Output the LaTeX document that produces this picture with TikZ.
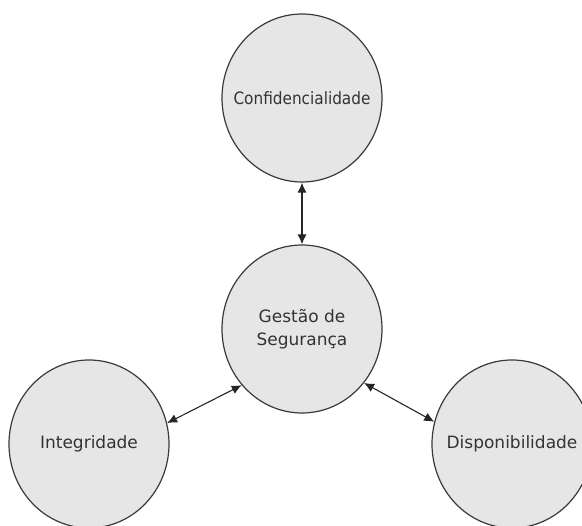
\documentclass[tikz,border=0pt]{standalone}
\usepackage{fontspec}
\setmainfont{DejaVu Sans}
\newfontfamily\narrowfont{DejaVu Sans}[FakeStretch=0.9]
\usetikzlibrary{arrows.meta, shapes.geometric}

\definecolor{pilarfill}{HTML}{E6E6E6}
\definecolor{pilarline}{HTML}{3A3A3A}
\definecolor{pilartext}{HTML}{333333}

\begin{document}
\begin{tikzpicture}[
  x=1pt, y=1pt,
  pilar/.style={draw=pilarline,fill=pilarfill,line width=1.2pt,ellipse,
    inner xsep=-22pt,inner ysep=0pt,
    minimum width=160pt,minimum height=168pt,align=center,text=pilartext,
    font=\fontsize{17}{23}\selectfont},
  link/.style={{Latex[length=10pt,width=9pt]}-{Latex[length=10pt,width=9pt]},line width=1.1pt,draw=black!85},
]
\useasboundingbox (0,0) rectangle (582,-526);

% Nodes
\node[pilar] (gestao) at (302,-329) {Gestão de\\Segurança};
\node[pilar, font=\narrowfont\fontsize{17}{23}\selectfont] (conf) at (302,-98) {Confidencialidade};
\node[pilar] (integ) at (89,-444) {Integridade};
\node[pilar] (disp) at (512,-444) {Disponibilidade};

% Connections
\draw[link] (conf.south) -- (gestao.north);
\draw[link] (integ.15) -- (gestao.223);
\draw[link] (gestao.319) -- (disp.164);

\end{tikzpicture}
\end{document}
